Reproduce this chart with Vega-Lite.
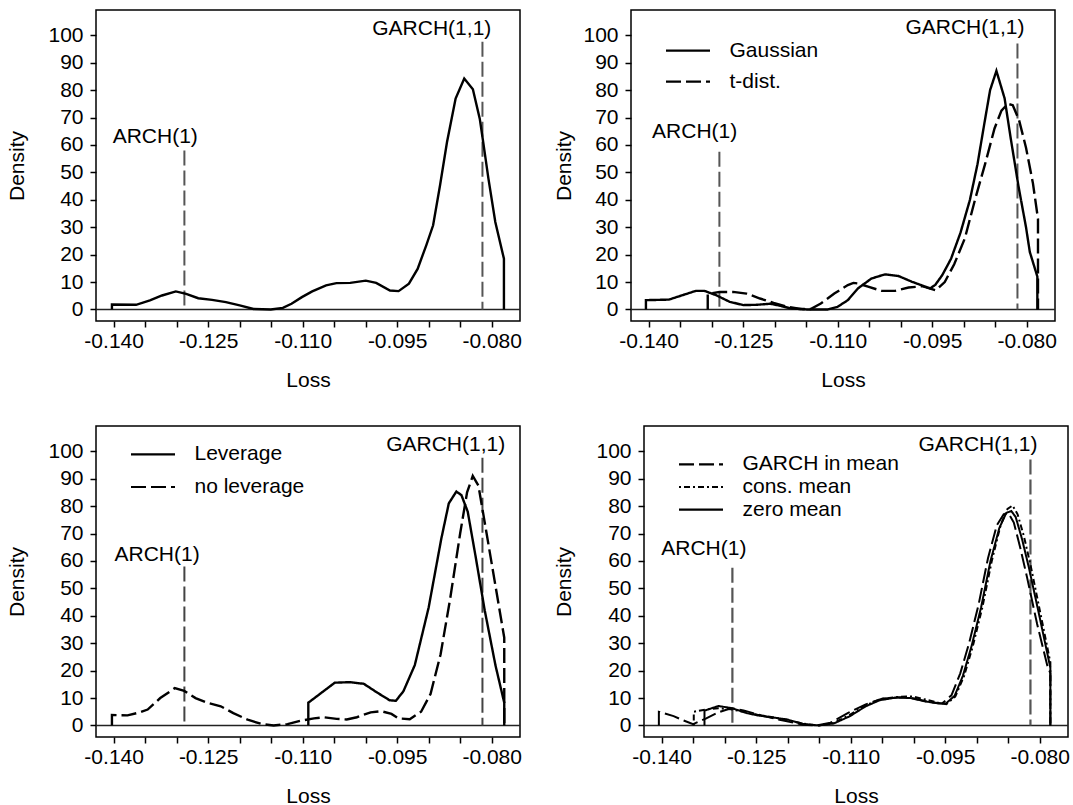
{
  "$schema": "https://vega.github.io/schema/vega-lite/v6.json",
  "padding": {"left": 6, "top": 9, "right": 2, "bottom": 0},
  "background": "white",
  "config": {
    "font": "Liberation Sans",
    "view": {"stroke": "black", "strokeWidth": 1.5},
    "axis": {"grid": false, "domain": false, "tickColor": "black", "tickWidth": 1.5, "tickSize": 6, "labelFontSize": 21, "labelColor": "black", "labelFont": "Liberation Sans", "titleFontSize": 21, "titleFontWeight": "normal", "titleColor": "black", "titleFont": "Liberation Sans"},
    "axisX": {"labelPadding": 3, "titlePadding": 18},
    "axisY": {"labelPadding": 7},
    "legend": {"orient": "none", "title": null, "padding": 0, "labelFontSize": 21, "labelColor": "black", "labelFont": "Liberation Sans", "symbolType": "M-4,0H4", "symbolSize": 121, "symbolStrokeColor": "black", "symbolStrokeWidth": 2.2, "labelOffset": 31}
  },
  "datasets": {
    "p1": [
      {"x": -0.14027, "y": 0}, {"x": -0.14027, "y": 1.8}, {"x": -0.13644, "y": 1.7}, {"x": -0.13424, "y": 3.3}, {"x": -0.13232, "y": 5.1}, {"x": -0.13013, "y": 6.6}, {"x": -0.12849, "y": 5.7}, {"x": -0.12657, "y": 4.1}, {"x": -0.12438, "y": 3.5}, {"x": -0.12218, "y": 2.7}, {"x": -0.11999, "y": 1.5}, {"x": -0.1178, "y": 0.2}, {"x": -0.11506, "y": 0}, {"x": -0.11314, "y": 0.6}, {"x": -0.11177, "y": 2.1}, {"x": -0.11012, "y": 4.5}, {"x": -0.10848, "y": 6.6}, {"x": -0.10628, "y": 8.8}, {"x": -0.10464, "y": 9.6}, {"x": -0.10245, "y": 9.7}, {"x": -0.09998, "y": 10.5}, {"x": -0.09833, "y": 9.7}, {"x": -0.09614, "y": 6.9}, {"x": -0.09477, "y": 6.7}, {"x": -0.09313, "y": 9.4}, {"x": -0.09175, "y": 14.8}, {"x": -0.09038, "y": 23.4}, {"x": -0.08929, "y": 30.7}, {"x": -0.08819, "y": 45.3}, {"x": -0.08709, "y": 61}, {"x": -0.08572, "y": 76.9}, {"x": -0.08435, "y": 84.2}, {"x": -0.08298, "y": 80.3}, {"x": -0.08189, "y": 69.6}, {"x": -0.08134, "y": 61}, {"x": -0.08051, "y": 47.7}, {"x": -0.07942, "y": 31.9}, {"x": -0.07805, "y": 18.5}, {"x": -0.07805, "y": 0}
    ],
    "p2": [
      {"s": "Gaussian", "x": -0.14043, "y": 0}, {"s": "Gaussian", "x": -0.14043, "y": 3.4}, {"s": "Gaussian", "x": -0.13678, "y": 3.6}, {"s": "Gaussian", "x": -0.13464, "y": 5.2}, {"s": "Gaussian", "x": -0.1325, "y": 6.8}, {"s": "Gaussian", "x": -0.13116, "y": 6.8}, {"s": "Gaussian", "x": -0.12928, "y": 5.2}, {"s": "Gaussian", "x": -0.12714, "y": 2.8}, {"s": "Gaussian", "x": -0.12499, "y": 1.6}, {"s": "Gaussian", "x": -0.12285, "y": 1.7}, {"s": "Gaussian", "x": -0.12071, "y": 2.1}, {"s": "Gaussian", "x": -0.119, "y": 1.3}, {"s": "Gaussian", "x": -0.11749, "y": 0.4}, {"s": "Gaussian", "x": -0.11481, "y": 0}, {"s": "Gaussian", "x": -0.1116, "y": 0}, {"s": "Gaussian", "x": -0.10999, "y": 1.0}, {"s": "Gaussian", "x": -0.10838, "y": 3.4}, {"s": "Gaussian", "x": -0.10677, "y": 7.7}, {"s": "Gaussian", "x": -0.10463, "y": 11.3}, {"s": "Gaussian", "x": -0.10249, "y": 12.8}, {"s": "Gaussian", "x": -0.10034, "y": 12.2}, {"s": "Gaussian", "x": -0.0982, "y": 10.1}, {"s": "Gaussian", "x": -0.09606, "y": 8.3}, {"s": "Gaussian", "x": -0.0953, "y": 7.7}, {"s": "Gaussian", "x": -0.0945, "y": 9.0}, {"s": "Gaussian", "x": -0.0934, "y": 12.5}, {"s": "Gaussian", "x": -0.092, "y": 18.5}, {"s": "Gaussian", "x": -0.0905, "y": 28}, {"s": "Gaussian", "x": -0.089, "y": 40}, {"s": "Gaussian", "x": -0.0878, "y": 53}, {"s": "Gaussian", "x": -0.0867, "y": 68}, {"s": "Gaussian", "x": -0.0858, "y": 80}, {"s": "Gaussian", "x": -0.0848, "y": 87}, {"s": "Gaussian", "x": -0.0835, "y": 77}, {"s": "Gaussian", "x": -0.0825, "y": 62}, {"s": "Gaussian", "x": -0.0813, "y": 45}, {"s": "Gaussian", "x": -0.0801, "y": 30}, {"s": "Gaussian", "x": -0.0795, "y": 21}, {"s": "Gaussian", "x": -0.0783, "y": 12}, {"s": "Gaussian", "x": -0.0783, "y": 0},
      {"s": "t-dist.", "x": -0.13062, "y": 0}, {"s": "t-dist.", "x": -0.13062, "y": 5.6}, {"s": "t-dist.", "x": -0.12875, "y": 6.4}, {"s": "t-dist.", "x": -0.1266, "y": 6.4}, {"s": "t-dist.", "x": -0.12446, "y": 5.8}, {"s": "t-dist.", "x": -0.12232, "y": 4.0}, {"s": "t-dist.", "x": -0.12017, "y": 2.4}, {"s": "t-dist.", "x": -0.11803, "y": 1.0}, {"s": "t-dist.", "x": -0.11588, "y": 0.2}, {"s": "t-dist.", "x": -0.11428, "y": 0.2}, {"s": "t-dist.", "x": -0.11267, "y": 2.2}, {"s": "t-dist.", "x": -0.11053, "y": 5.8}, {"s": "t-dist.", "x": -0.10838, "y": 8.9}, {"s": "t-dist.", "x": -0.1075, "y": 9.7}, {"s": "t-dist.", "x": -0.10677, "y": 9.5}, {"s": "t-dist.", "x": -0.10517, "y": 8.3}, {"s": "t-dist.", "x": -0.10302, "y": 6.8}, {"s": "t-dist.", "x": -0.10088, "y": 6.8}, {"s": "t-dist.", "x": -0.09874, "y": 8.0}, {"s": "t-dist.", "x": -0.09659, "y": 8.5}, {"s": "t-dist.", "x": -0.0953, "y": 7.6}, {"s": "t-dist.", "x": -0.0944, "y": 7.0}, {"s": "t-dist.", "x": -0.093, "y": 10}, {"s": "t-dist.", "x": -0.0915, "y": 16.5}, {"s": "t-dist.", "x": -0.0898, "y": 26}, {"s": "t-dist.", "x": -0.0882, "y": 40}, {"s": "t-dist.", "x": -0.0866, "y": 53}, {"s": "t-dist.", "x": -0.0851, "y": 66}, {"s": "t-dist.", "x": -0.084, "y": 72.5}, {"s": "t-dist.", "x": -0.083, "y": 75}, {"s": "t-dist.", "x": -0.0822, "y": 74.5}, {"s": "t-dist.", "x": -0.0812, "y": 69}, {"s": "t-dist.", "x": -0.0801, "y": 59}, {"s": "t-dist.", "x": -0.079, "y": 46}, {"s": "t-dist.", "x": -0.0782, "y": 33}, {"s": "t-dist.", "x": -0.0782, "y": 0}
    ],
    "p3": [
      {"s": "Leverage", "x": -0.1091, "y": 0}, {"s": "Leverage", "x": -0.1091, "y": 8.3}, {"s": "Leverage", "x": -0.1068, "y": 12.3}, {"s": "Leverage", "x": -0.1049, "y": 15.6}, {"s": "Leverage", "x": -0.1025, "y": 15.8}, {"s": "Leverage", "x": -0.1003, "y": 15.2}, {"s": "Leverage", "x": -0.0981, "y": 11.9}, {"s": "Leverage", "x": -0.0962, "y": 9.2}, {"s": "Leverage", "x": -0.0952, "y": 9.0}, {"s": "Leverage", "x": -0.094, "y": 12.5}, {"s": "Leverage", "x": -0.0922, "y": 22}, {"s": "Leverage", "x": -0.09, "y": 43}, {"s": "Leverage", "x": -0.088, "y": 68}, {"s": "Leverage", "x": -0.0868, "y": 81}, {"s": "Leverage", "x": -0.0856, "y": 85.3}, {"s": "Leverage", "x": -0.0848, "y": 84}, {"s": "Leverage", "x": -0.0838, "y": 78}, {"s": "Leverage", "x": -0.0825, "y": 61}, {"s": "Leverage", "x": -0.0811, "y": 42}, {"s": "Leverage", "x": -0.0794, "y": 22}, {"s": "Leverage", "x": -0.078, "y": 8.3}, {"s": "Leverage", "x": -0.078, "y": 0},
      {"s": "no leverage", "x": -0.14027, "y": 0}, {"s": "no leverage", "x": -0.14027, "y": 3.8}, {"s": "no leverage", "x": -0.1378, "y": 3.7}, {"s": "no leverage", "x": -0.1358, "y": 4.8}, {"s": "no leverage", "x": -0.1346, "y": 5.8}, {"s": "no leverage", "x": -0.1326, "y": 10}, {"s": "no leverage", "x": -0.1303, "y": 13.6}, {"s": "no leverage", "x": -0.1288, "y": 12.6}, {"s": "no leverage", "x": -0.127, "y": 10}, {"s": "no leverage", "x": -0.125, "y": 8.2}, {"s": "no leverage", "x": -0.123, "y": 7}, {"s": "no leverage", "x": -0.121, "y": 4.5}, {"s": "no leverage", "x": -0.1186, "y": 2.0}, {"s": "no leverage", "x": -0.1164, "y": 0.5}, {"s": "no leverage", "x": -0.1146, "y": 0}, {"s": "no leverage", "x": -0.1124, "y": 0.5}, {"s": "no leverage", "x": -0.1104, "y": 1.7}, {"s": "no leverage", "x": -0.1082, "y": 2.6}, {"s": "no leverage", "x": -0.1066, "y": 3.0}, {"s": "no leverage", "x": -0.1046, "y": 2.4}, {"s": "no leverage", "x": -0.103, "y": 2.2}, {"s": "no leverage", "x": -0.1014, "y": 3.0}, {"s": "no leverage", "x": -0.0992, "y": 4.8}, {"s": "no leverage", "x": -0.0975, "y": 5.2}, {"s": "no leverage", "x": -0.0959, "y": 4.2}, {"s": "no leverage", "x": -0.0948, "y": 2.6}, {"s": "no leverage", "x": -0.093, "y": 2.3}, {"s": "no leverage", "x": -0.0912, "y": 5.0}, {"s": "no leverage", "x": -0.0897, "y": 11.5}, {"s": "no leverage", "x": -0.0881, "y": 26}, {"s": "no leverage", "x": -0.0866, "y": 46}, {"s": "no leverage", "x": -0.085, "y": 70}, {"s": "no leverage", "x": -0.0839, "y": 85}, {"s": "no leverage", "x": -0.083, "y": 91}, {"s": "no leverage", "x": -0.0821, "y": 87.5}, {"s": "no leverage", "x": -0.0808, "y": 70}, {"s": "no leverage", "x": -0.0794, "y": 51}, {"s": "no leverage", "x": -0.078, "y": 32}, {"s": "no leverage", "x": -0.078, "y": 0}
    ],
    "p4": [
      {"s": "GARCH in mean", "x": -0.14044, "y": 0}, {"s": "GARCH in mean", "x": -0.14044, "y": 5.0}, {"s": "GARCH in mean", "x": -0.1381, "y": 3.4}, {"s": "GARCH in mean", "x": -0.1365, "y": 1.8}, {"s": "GARCH in mean", "x": -0.135, "y": 0.5}, {"s": "GARCH in mean", "x": -0.133, "y": 2.5}, {"s": "GARCH in mean", "x": -0.131, "y": 4.8}, {"s": "GARCH in mean", "x": -0.129, "y": 6.3}, {"s": "GARCH in mean", "x": -0.127, "y": 5.5}, {"s": "GARCH in mean", "x": -0.125, "y": 4.2}, {"s": "GARCH in mean", "x": -0.1226, "y": 2.8}, {"s": "GARCH in mean", "x": -0.1201, "y": 1.5}, {"s": "GARCH in mean", "x": -0.1176, "y": 0.3}, {"s": "GARCH in mean", "x": -0.1154, "y": 0}, {"s": "GARCH in mean", "x": -0.1132, "y": 1}, {"s": "GARCH in mean", "x": -0.1104, "y": 4.6}, {"s": "GARCH in mean", "x": -0.1076, "y": 7.7}, {"s": "GARCH in mean", "x": -0.1049, "y": 9.8}, {"s": "GARCH in mean", "x": -0.1021, "y": 10.3}, {"s": "GARCH in mean", "x": -0.0999, "y": 9.8}, {"s": "GARCH in mean", "x": -0.0977, "y": 8.6}, {"s": "GARCH in mean", "x": -0.0955, "y": 8.0}, {"s": "GARCH in mean", "x": -0.094, "y": 11}, {"s": "GARCH in mean", "x": -0.0926, "y": 19}, {"s": "GARCH in mean", "x": -0.0912, "y": 30}, {"s": "GARCH in mean", "x": -0.0897, "y": 44}, {"s": "GARCH in mean", "x": -0.0882, "y": 61}, {"s": "GARCH in mean", "x": -0.0868, "y": 73}, {"s": "GARCH in mean", "x": -0.0857, "y": 77}, {"s": "GARCH in mean", "x": -0.0849, "y": 77.2}, {"s": "GARCH in mean", "x": -0.0841, "y": 74}, {"s": "GARCH in mean", "x": -0.0831, "y": 65}, {"s": "GARCH in mean", "x": -0.082, "y": 54}, {"s": "GARCH in mean", "x": -0.0804, "y": 37}, {"s": "GARCH in mean", "x": -0.0788, "y": 22}, {"s": "GARCH in mean", "x": -0.0783, "y": 19}, {"s": "GARCH in mean", "x": -0.0783, "y": 0},
      {"s": "cons. mean", "x": -0.1349, "y": 0}, {"s": "cons. mean", "x": -0.1349, "y": 5.0}, {"s": "cons. mean", "x": -0.133, "y": 5.8}, {"s": "cons. mean", "x": -0.131, "y": 6.3}, {"s": "cons. mean", "x": -0.129, "y": 5.9}, {"s": "cons. mean", "x": -0.127, "y": 5.0}, {"s": "cons. mean", "x": -0.1248, "y": 3.9}, {"s": "cons. mean", "x": -0.1226, "y": 3.1}, {"s": "cons. mean", "x": -0.1201, "y": 2.0}, {"s": "cons. mean", "x": -0.1176, "y": 0.7}, {"s": "cons. mean", "x": -0.1152, "y": 0}, {"s": "cons. mean", "x": -0.1128, "y": 0.8}, {"s": "cons. mean", "x": -0.1102, "y": 3.8}, {"s": "cons. mean", "x": -0.1076, "y": 7.4}, {"s": "cons. mean", "x": -0.1052, "y": 9.6}, {"s": "cons. mean", "x": -0.1025, "y": 10.4}, {"s": "cons. mean", "x": -0.1002, "y": 10.6}, {"s": "cons. mean", "x": -0.098, "y": 9.4}, {"s": "cons. mean", "x": -0.096, "y": 8.2}, {"s": "cons. mean", "x": -0.0948, "y": 7.8}, {"s": "cons. mean", "x": -0.0934, "y": 10.5}, {"s": "cons. mean", "x": -0.092, "y": 18}, {"s": "cons. mean", "x": -0.0906, "y": 29}, {"s": "cons. mean", "x": -0.0891, "y": 43}, {"s": "cons. mean", "x": -0.0876, "y": 60}, {"s": "cons. mean", "x": -0.0862, "y": 73}, {"s": "cons. mean", "x": -0.0851, "y": 79}, {"s": "cons. mean", "x": -0.0843, "y": 80.2}, {"s": "cons. mean", "x": -0.0835, "y": 77}, {"s": "cons. mean", "x": -0.0825, "y": 69}, {"s": "cons. mean", "x": -0.0814, "y": 58}, {"s": "cons. mean", "x": -0.0798, "y": 40}, {"s": "cons. mean", "x": -0.0783, "y": 23}, {"s": "cons. mean", "x": -0.0783, "y": 0},
      {"s": "zero mean", "x": -0.1332, "y": 0}, {"s": "zero mean", "x": -0.1332, "y": 5.4}, {"s": "zero mean", "x": -0.131, "y": 7.1}, {"s": "zero mean", "x": -0.1288, "y": 6.3}, {"s": "zero mean", "x": -0.1265, "y": 4.5}, {"s": "zero mean", "x": -0.1246, "y": 3.6}, {"s": "zero mean", "x": -0.1226, "y": 3.0}, {"s": "zero mean", "x": -0.1201, "y": 2.2}, {"s": "zero mean", "x": -0.1176, "y": 0.6}, {"s": "zero mean", "x": -0.115, "y": 0}, {"s": "zero mean", "x": -0.1126, "y": 0.8}, {"s": "zero mean", "x": -0.1101, "y": 3.4}, {"s": "zero mean", "x": -0.1076, "y": 7}, {"s": "zero mean", "x": -0.1054, "y": 9.2}, {"s": "zero mean", "x": -0.1027, "y": 10.2}, {"s": "zero mean", "x": -0.1005, "y": 10}, {"s": "zero mean", "x": -0.0982, "y": 8.8}, {"s": "zero mean", "x": -0.096, "y": 8.0}, {"s": "zero mean", "x": -0.0949, "y": 8.0}, {"s": "zero mean", "x": -0.0935, "y": 10.8}, {"s": "zero mean", "x": -0.0922, "y": 18}, {"s": "zero mean", "x": -0.0908, "y": 29}, {"s": "zero mean", "x": -0.0893, "y": 43}, {"s": "zero mean", "x": -0.0878, "y": 60}, {"s": "zero mean", "x": -0.0864, "y": 72}, {"s": "zero mean", "x": -0.0853, "y": 77.5}, {"s": "zero mean", "x": -0.0845, "y": 78.2}, {"s": "zero mean", "x": -0.0838, "y": 76}, {"s": "zero mean", "x": -0.0828, "y": 68}, {"s": "zero mean", "x": -0.0817, "y": 57.5}, {"s": "zero mean", "x": -0.08, "y": 39.5}, {"s": "zero mean", "x": -0.0783, "y": 21}, {"s": "zero mean", "x": -0.0783, "y": 0}
    ],
    "refs1": [{"x": -0.12877, "top": 58}, {"x": -0.08146, "top": 97.6}],
    "refs2": [{"x": -0.12877, "top": 57.5}, {"x": -0.08146, "top": 97}],
    "refs3": [{"x": -0.12877, "top": 58}, {"x": -0.08146, "top": 97.6}],
    "refs4": [{"x": -0.12877, "top": 57.5}, {"x": -0.08146, "top": 97}],
    "lab1": [{"x": -0.1334, "y": 62.9, "label": "ARCH(1)"}, {"x": -0.0895, "y": 102.2, "label": "GARCH(1,1)"}],
    "lab2": [{"x": -0.1327, "y": 64.8, "label": "ARCH(1)"}, {"x": -0.0898, "y": 102.8, "label": "GARCH(1,1)"}],
    "lab3": [{"x": -0.1331, "y": 62.3, "label": "ARCH(1)"}, {"x": -0.0873, "y": 102.4, "label": "GARCH(1,1)"}],
    "lab4": [{"x": -0.1333, "y": 64.2, "label": "ARCH(1)"}, {"x": -0.0898, "y": 102.4, "label": "GARCH(1,1)"}]
  },
  "vconcat": [
    {
      "hconcat": [
        {
          "width": 424, "height": 311,
          "layer": [
            {"data": {"values": [{"zero": 0}]}, "mark": {"type": "rule", "color": "#222", "strokeWidth": 1.6},
             "encoding": {"y": {"field": "zero", "type": "quantitative", "title": "Density", "scale": {"domain": [-4.2, 109.2], "nice": false, "zero": false}, "axis": {"values": [0, 10, 20, 30, 40, 50, 60, 70, 80, 90, 100], "titlePadding": 20}}}},
            {"data": {"name": "refs1"}, "mark": {"type": "rule", "color": "#555", "strokeWidth": 2, "strokeDash": [15, 5]},
             "encoding": {
               "x": {"field": "x", "type": "quantitative", "title": "Loss", "scale": {"domain": [-0.1428, -0.0755], "nice": false, "zero": false}, "axis": {"values": [-0.14, -0.135, -0.13, -0.125, -0.12, -0.115, -0.11, -0.105, -0.1, -0.095, -0.09, -0.085, -0.08], "labelExpr": "(round(datum.value*1000)+140) % 15 == 0 ? '-0.' + format(round(-datum.value*1000), '03d') : ''"}},
               "y": {"field": "top", "type": "quantitative", "title": "Density", "scale": {"domain": [-4.2, 109.2], "nice": false, "zero": false}, "axis": {"values": [0, 10, 20, 30, 40, 50, 60, 70, 80, 90, 100], "titlePadding": 20}},
               "y2": {"datum": 0}}},
            {"data": {"name": "lab1"}, "mark": {"type": "text", "fontSize": 21, "color": "black", "font": "Liberation Sans", "baseline": "middle", "align": "center"},
             "encoding": {
               "x": {"field": "x", "type": "quantitative", "title": "Loss", "scale": {"domain": [-0.1428, -0.0755], "nice": false, "zero": false}, "axis": {"values": [-0.14, -0.135, -0.13, -0.125, -0.12, -0.115, -0.11, -0.105, -0.1, -0.095, -0.09, -0.085, -0.08], "labelExpr": "(round(datum.value*1000)+140) % 15 == 0 ? '-0.' + format(round(-datum.value*1000), '03d') : ''"}},
               "y": {"field": "y", "type": "quantitative", "title": "Density", "scale": {"domain": [-4.2, 109.2], "nice": false, "zero": false}, "axis": {"values": [0, 10, 20, 30, 40, 50, 60, 70, 80, 90, 100], "titlePadding": 20}},
               "text": {"field": "label"}}},
            {"data": {"name": "p1"}, "mark": {"type": "line", "color": "black", "strokeWidth": 2.4},
             "encoding": {
               "x": {"field": "x", "type": "quantitative", "title": "Loss", "scale": {"domain": [-0.1428, -0.0755], "nice": false, "zero": false}, "axis": {"values": [-0.14, -0.135, -0.13, -0.125, -0.12, -0.115, -0.11, -0.105, -0.1, -0.095, -0.09, -0.085, -0.08], "labelExpr": "(round(datum.value*1000)+140) % 15 == 0 ? '-0.' + format(round(-datum.value*1000), '03d') : ''"}},
               "y": {"field": "y", "type": "quantitative", "title": "Density", "scale": {"domain": [-4.2, 109.2], "nice": false, "zero": false}, "axis": {"values": [0, 10, 20, 30, 40, 50, 60, 70, 80, 90, 100], "titlePadding": 20}}}}
          ]
        },
        {
          "width": 424, "height": 311,
          "layer": [
            {"data": {"values": [{"zero": 0}]}, "mark": {"type": "rule", "color": "#222", "strokeWidth": 1.6},
             "encoding": {"y": {"field": "zero", "type": "quantitative", "title": "Density", "scale": {"domain": [-4.2, 109.2], "nice": false, "zero": false}, "axis": {"values": [0, 10, 20, 30, 40, 50, 60, 70, 80, 90, 100], "titlePadding": 8}}}},
            {"data": {"name": "refs2"}, "mark": {"type": "rule", "color": "#555", "strokeWidth": 2, "strokeDash": [15, 5]},
             "encoding": {
               "x": {"field": "x", "type": "quantitative", "title": "Loss", "scale": {"domain": [-0.1428, -0.0755], "nice": false, "zero": false}, "axis": {"values": [-0.14, -0.135, -0.13, -0.125, -0.12, -0.115, -0.11, -0.105, -0.1, -0.095, -0.09, -0.085, -0.08], "labelExpr": "(round(datum.value*1000)+140) % 15 == 0 ? '-0.' + format(round(-datum.value*1000), '03d') : ''"}},
               "y": {"field": "top", "type": "quantitative", "title": "Density", "scale": {"domain": [-4.2, 109.2], "nice": false, "zero": false}, "axis": {"values": [0, 10, 20, 30, 40, 50, 60, 70, 80, 90, 100], "titlePadding": 8}},
               "y2": {"datum": 0}}},
            {"data": {"name": "lab2"}, "mark": {"type": "text", "fontSize": 21, "color": "black", "font": "Liberation Sans", "baseline": "middle", "align": "center"},
             "encoding": {
               "x": {"field": "x", "type": "quantitative", "title": "Loss", "scale": {"domain": [-0.1428, -0.0755], "nice": false, "zero": false}, "axis": {"values": [-0.14, -0.135, -0.13, -0.125, -0.12, -0.115, -0.11, -0.105, -0.1, -0.095, -0.09, -0.085, -0.08], "labelExpr": "(round(datum.value*1000)+140) % 15 == 0 ? '-0.' + format(round(-datum.value*1000), '03d') : ''"}},
               "y": {"field": "y", "type": "quantitative", "title": "Density", "scale": {"domain": [-4.2, 109.2], "nice": false, "zero": false}, "axis": {"values": [0, 10, 20, 30, 40, 50, 60, 70, 80, 90, 100], "titlePadding": 8}},
               "text": {"field": "label"}}},
            {"data": {"name": "p2"}, "mark": {"type": "line", "color": "black", "strokeWidth": 2.4},
             "encoding": {
               "x": {"field": "x", "type": "quantitative", "title": "Loss", "scale": {"domain": [-0.1428, -0.0755], "nice": false, "zero": false}, "axis": {"values": [-0.14, -0.135, -0.13, -0.125, -0.12, -0.115, -0.11, -0.105, -0.1, -0.095, -0.09, -0.085, -0.08], "labelExpr": "(round(datum.value*1000)+140) % 15 == 0 ? '-0.' + format(round(-datum.value*1000), '03d') : ''"}},
               "y": {"field": "y", "type": "quantitative", "title": "Density", "scale": {"domain": [-4.2, 109.2], "nice": false, "zero": false}, "axis": {"values": [0, 10, 20, 30, 40, 50, 60, 70, 80, 90, 100], "titlePadding": 8}},
               "strokeDash": {"field": "s", "type": "nominal", "scale": {"domain": ["Gaussian", "t-dist."], "range": [[1, 0], [15, 5]]}, "legend": {"legendX": 46.5, "legendY": 30.2, "rowPadding": 9}}}}
          ]
        }
      ],
      "spacing": 30,
      "resolve": {"scale": {"strokeDash": "independent"}, "legend": {"strokeDash": "independent"}}
    },
    {
      "hconcat": [
        {
          "width": 424, "height": 311,
          "layer": [
            {"data": {"values": [{"zero": 0}]}, "mark": {"type": "rule", "color": "#222", "strokeWidth": 1.6},
             "encoding": {"y": {"field": "zero", "type": "quantitative", "title": "Density", "scale": {"domain": [-4.2, 109.2], "nice": false, "zero": false}, "axis": {"values": [0, 10, 20, 30, 40, 50, 60, 70, 80, 90, 100], "titlePadding": 20}}}},
            {"data": {"name": "refs3"}, "mark": {"type": "rule", "color": "#444", "strokeWidth": 2, "strokeDash": [15, 5]},
             "encoding": {
               "x": {"field": "x", "type": "quantitative", "title": "Loss", "scale": {"domain": [-0.1428, -0.0755], "nice": false, "zero": false}, "axis": {"values": [-0.14, -0.135, -0.13, -0.125, -0.12, -0.115, -0.11, -0.105, -0.1, -0.095, -0.09, -0.085, -0.08], "labelExpr": "(round(datum.value*1000)+140) % 15 == 0 ? '-0.' + format(round(-datum.value*1000), '03d') : ''"}},
               "y": {"field": "top", "type": "quantitative", "title": "Density", "scale": {"domain": [-4.2, 109.2], "nice": false, "zero": false}, "axis": {"values": [0, 10, 20, 30, 40, 50, 60, 70, 80, 90, 100], "titlePadding": 20}},
               "y2": {"datum": 0}}},
            {"data": {"name": "lab3"}, "mark": {"type": "text", "fontSize": 21, "color": "black", "font": "Liberation Sans", "baseline": "middle", "align": "center"},
             "encoding": {
               "x": {"field": "x", "type": "quantitative", "title": "Loss", "scale": {"domain": [-0.1428, -0.0755], "nice": false, "zero": false}, "axis": {"values": [-0.14, -0.135, -0.13, -0.125, -0.12, -0.115, -0.11, -0.105, -0.1, -0.095, -0.09, -0.085, -0.08], "labelExpr": "(round(datum.value*1000)+140) % 15 == 0 ? '-0.' + format(round(-datum.value*1000), '03d') : ''"}},
               "y": {"field": "y", "type": "quantitative", "title": "Density", "scale": {"domain": [-4.2, 109.2], "nice": false, "zero": false}, "axis": {"values": [0, 10, 20, 30, 40, 50, 60, 70, 80, 90, 100], "titlePadding": 20}},
               "text": {"field": "label"}}},
            {"data": {"name": "p3"}, "mark": {"type": "line", "color": "black", "strokeWidth": 2.4},
             "encoding": {
               "x": {"field": "x", "type": "quantitative", "title": "Loss", "scale": {"domain": [-0.1428, -0.0755], "nice": false, "zero": false}, "axis": {"values": [-0.14, -0.135, -0.13, -0.125, -0.12, -0.115, -0.11, -0.105, -0.1, -0.095, -0.09, -0.085, -0.08], "labelExpr": "(round(datum.value*1000)+140) % 15 == 0 ? '-0.' + format(round(-datum.value*1000), '03d') : ''"}},
               "y": {"field": "y", "type": "quantitative", "title": "Density", "scale": {"domain": [-4.2, 109.2], "nice": false, "zero": false}, "axis": {"values": [0, 10, 20, 30, 40, 50, 60, 70, 80, 90, 100], "titlePadding": 20}},
               "strokeDash": {"field": "s", "type": "nominal", "scale": {"domain": ["Leverage", "no leverage"], "range": [[1, 0], [15, 5]]}, "legend": {"legendX": 46.5, "legendY": 17.8, "rowPadding": 10.7}}}}
          ]
        },
        {
          "width": 424, "height": 311,
          "layer": [
            {"data": {"values": [{"zero": 0}]}, "mark": {"type": "rule", "color": "#222", "strokeWidth": 1.6},
             "encoding": {"y": {"field": "zero", "type": "quantitative", "title": "Density", "scale": {"domain": [-4.2, 109.2], "nice": false, "zero": false}, "axis": {"values": [0, 10, 20, 30, 40, 50, 60, 70, 80, 90, 100], "titlePadding": 21}}}},
            {"data": {"name": "refs4"}, "mark": {"type": "rule", "color": "#555", "strokeWidth": 2.2, "strokeDash": [15, 5]},
             "encoding": {
               "x": {"field": "x", "type": "quantitative", "title": "Loss", "scale": {"domain": [-0.1428, -0.0755], "nice": false, "zero": false}, "axis": {"values": [-0.14, -0.135, -0.13, -0.125, -0.12, -0.115, -0.11, -0.105, -0.1, -0.095, -0.09, -0.085, -0.08], "labelExpr": "(round(datum.value*1000)+140) % 15 == 0 ? '-0.' + format(round(-datum.value*1000), '03d') : ''"}},
               "y": {"field": "top", "type": "quantitative", "title": "Density", "scale": {"domain": [-4.2, 109.2], "nice": false, "zero": false}, "axis": {"values": [0, 10, 20, 30, 40, 50, 60, 70, 80, 90, 100], "titlePadding": 21}},
               "y2": {"datum": 0}}},
            {"data": {"name": "lab4"}, "mark": {"type": "text", "fontSize": 21, "color": "black", "font": "Liberation Sans", "baseline": "middle", "align": "center"},
             "encoding": {
               "x": {"field": "x", "type": "quantitative", "title": "Loss", "scale": {"domain": [-0.1428, -0.0755], "nice": false, "zero": false}, "axis": {"values": [-0.14, -0.135, -0.13, -0.125, -0.12, -0.115, -0.11, -0.105, -0.1, -0.095, -0.09, -0.085, -0.08], "labelExpr": "(round(datum.value*1000)+140) % 15 == 0 ? '-0.' + format(round(-datum.value*1000), '03d') : ''"}},
               "y": {"field": "y", "type": "quantitative", "title": "Density", "scale": {"domain": [-4.2, 109.2], "nice": false, "zero": false}, "axis": {"values": [0, 10, 20, 30, 40, 50, 60, 70, 80, 90, 100], "titlePadding": 21}},
               "text": {"field": "label"}}},
            {"data": {"name": "p4"}, "mark": {"type": "line", "color": "black", "strokeWidth": 2.0},
             "encoding": {
               "x": {"field": "x", "type": "quantitative", "title": "Loss", "scale": {"domain": [-0.1428, -0.0755], "nice": false, "zero": false}, "axis": {"values": [-0.14, -0.135, -0.13, -0.125, -0.12, -0.115, -0.11, -0.105, -0.1, -0.095, -0.09, -0.085, -0.08], "labelExpr": "(round(datum.value*1000)+140) % 15 == 0 ? '-0.' + format(round(-datum.value*1000), '03d') : ''"}},
               "y": {"field": "y", "type": "quantitative", "title": "Density", "scale": {"domain": [-4.2, 109.2], "nice": false, "zero": false}, "axis": {"values": [0, 10, 20, 30, 40, 50, 60, 70, 80, 90, 100], "titlePadding": 21}},
               "strokeDash": {"field": "s", "type": "nominal", "scale": {"domain": ["GARCH in mean", "cons. mean", "zero mean"], "range": [[15, 5], [2, 3, 6, 3], [1, 0]]}, "legend": {"legendX": 46.5, "legendY": 27.8, "rowPadding": 0.7}}}}
          ]
        }
      ],
      "spacing": 30,
      "resolve": {"scale": {"strokeDash": "independent"}, "legend": {"strokeDash": "independent"}}
    }
  ],
  "spacing": 34,
  "resolve": {"scale": {"strokeDash": "independent"}, "legend": {"strokeDash": "independent"}}
}
